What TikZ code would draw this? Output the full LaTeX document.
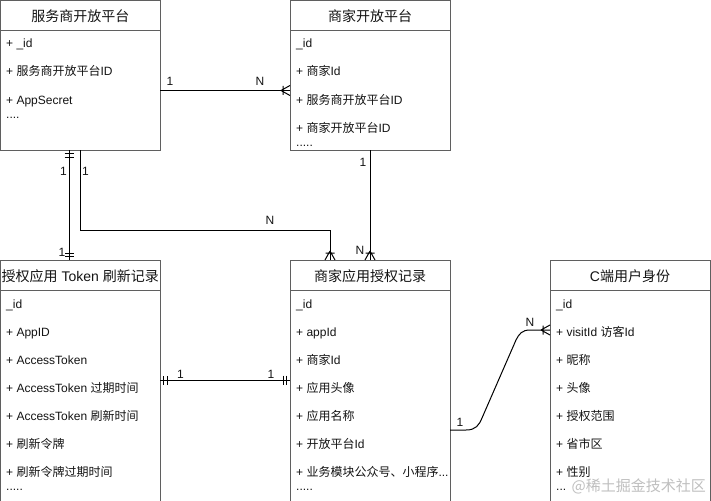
\documentclass[tikz,border=0pt]{standalone}
\usepackage{fontspec}
\setmainfont{Liberation Sans}
\newfontfamily\cjk{Noto Sans CJK SC}
\usetikzlibrary{calc}
\newcommand\zh[1]{{\cjk #1}}
\definecolor{boxgray}{RGB}{95,95,95}
\definecolor{txt}{RGB}{20,20,20}
\tikzset{
  box/.style={draw=boxgray, line width=1pt, inner sep=0pt, outer sep=0pt, anchor=north west},
  hdrline/.style={draw=boxgray, line width=1pt},
  ttl/.style={font=\fontsize{14}{16}\selectfont, inner sep=0pt, text=txt},
  row/.style={font=\fontsize{12}{14}\selectfont, anchor=base west, inner sep=0pt, text=txt},
  lbl/.style={font=\fontsize{12}{14}\selectfont, inner sep=0pt, text=txt},
  conn/.style={draw=black, line width=1pt},
  crow/.pic={\draw[conn] (-9,0) -- (0,-5) (-9,0) -- (0,5) (-7,-4.5) -- (-7,4.5);},
  mand/.pic={\draw[conn] (-3.5,-4.5) -- (-3.5,4.5) (-7,-4.5) -- (-7,4.5);},
}
\begin{document}
\begin{tikzpicture}[x=1pt,y=-1pt]
\useasboundingbox (0,0) rectangle (711,500);
\clip (0,0) rectangle (711,500);
\fill[white] (0,0) rectangle (711,500);

% boxes
\node[box, minimum width=159.5pt, minimum height=149.5pt] (b1) at (0.5,0.5) {};
\node[box, minimum width=160pt, minimum height=149.5pt] (b2) at (290,0.5) {};
\node[box, minimum width=159.5pt, minimum height=250pt] (b3) at (0.5,260) {};
\node[box, minimum width=160pt, minimum height=250pt] (b4) at (290,260) {};
\node[box, minimum width=160pt, minimum height=250pt] (b5) at (550,260) {};

\foreach \b in {b1,b2,b3,b4,b5}{
  \draw[hdrline] ($(\b.north west)+(0,30)$) -- ($(\b.north east)+(0,30)$);
}

% titles
\node[ttl] (t1) at ($(b1.north)+(0,16)$) {\zh{服务商开放平台}};
\node[ttl] (t2) at ($(b2.north)+(0,16)$) {\zh{商家开放平台}};
\node[ttl] (t3) at ($(b3.north)+(0,16.5)$) {\zh{授权应用} Token \zh{刷新记录}};
\node[ttl] (t4) at ($(b4.north)+(0,16.5)$) {\zh{商家应用授权记录}};
\node[ttl] (t5) at ($(b5.north)+(0,16.5)$) {C\zh{端用户身份}};

% box 1 rows
\node[row] (r1a) at (6,48) {+ \_id};
\node[row] (r1b) at (6,76) {+ \zh{服务商开放平台}ID};
\node[row] (r1c) at (6,104) {+ AppSecret};
\node[row] (r1d) at (6,118) {....};

% box 2 rows
\node[row] (r2a) at (296,48) {\_id};
\node[row] (r2b) at (296,76) {+ \zh{商家}Id};
\node[row] (r2c) at (296,104) {+ \zh{服务商开放平台}ID};
\node[row] (r2d) at (296,132) {+ \zh{商家开放平台}ID};
\node[row] (r2e) at (296,146) {.....};

% box 3 rows
\node[row] (r3a) at (6,308.5) {\_id};
\node[row] (r3b) at (6,336.5) {+ AppID};
\node[row] (r3c) at (6,364.5) {+ AccessToken};
\node[row] (r3d) at (6,392.5) {+ AccessToken \zh{过期时间}};
\node[row] (r3e) at (6,420.5) {+ AccessToken \zh{刷新时间}};
\node[row] (r3f) at (6,448.5) {+ \zh{刷新令牌}};
\node[row] (r3g) at (6,476) {+ \zh{刷新令牌过期时间}};
\node[row] (r3h) at (6,490) {.....};

% box 4 rows
\node[row] (r4a) at (296,308.5) {\_id};
\node[row] (r4b) at (296,336.5) {+ appId};
\node[row] (r4c) at (296,364.5) {+ \zh{商家}Id};
\node[row] (r4d) at (296,392.5) {+ \zh{应用头像}};
\node[row] (r4e) at (296,420.5) {+ \zh{应用名称}};
\node[row] (r4f) at (296,448.5) {+ \zh{开放平台}Id};
\node[row] (r4g) at (296,476) {+ \zh{业务模块公众号、小程序}...};
\node[row] (r4h) at (296,490) {.....};

% box 5 rows
\node[row] (r5a) at (556,308.5) {\_id};
\node[row] (r5b) at (556,336.5) {+ visitId \zh{访客}Id};
\node[row] (r5c) at (556,364.5) {+ \zh{昵称}};
\node[row] (r5d) at (556,392.5) {+ \zh{头像}};
\node[row] (r5e) at (556,420.5) {+ \zh{授权范围}};
\node[row] (r5f) at (556,448.5) {+ \zh{省市区}};
\node[row] (r5g) at (556,476) {+ \zh{性别}};
\node[row] (r5h) at (556,490) {...};

% C1: b1 -> b2
\draw[conn] ($(b1.north east)+(0,90)$) coordinate (c1s) -- ($(b2.north west)+(0,90)$) coordinate (c1e);
\pic at (c1e) {crow};
\node[lbl] (l1a) at (170,81) {1};
\node[lbl] (l1b) at (260,81) {N};

% C2: b1 -> b3 (one-to-one)
\draw[conn] ($(b1.south west)+(68.5,0)$) coordinate (c2s) -- (c2s |- b3.north) coordinate (c2e);
\pic[rotate=90] at (c2s) {mand};
\pic[rotate=-90] at (c2e) {mand};
\node[lbl] (l2a) at (63.5,171.5) {1};
\node[lbl] (l2b) at (62,252.5) {1};

% C3: b1 -> b4
\draw[conn] ($(b1.south west)+(79.5,0)$) coordinate (c3s) -- ++(0,80) -| ($(b4.north west)+(40,0)$) coordinate (c3e);
\pic[rotate=-90] at (c3e) {crow};
\node[lbl] (l3a) at (85.5,171.5) {1};
\node[lbl] (l3b) at (270,220) {N};

% C4: b2 -> b4
\draw[conn] ($(b2.south west)+(80,0)$) coordinate (c4s) -- (c4s |- b4.north) coordinate (c4e);
\pic[rotate=-90] at (c4e) {crow};
\node[lbl] (l4a) at (363,162) {1};
\node[lbl] (l4b) at (360,250) {N};

% C5: b3 -> b4
\draw[conn] ($(b3.north east)+(0,120)$) coordinate (c5s) -- ($(b4.north west)+(0,120)$) coordinate (c5e);
\pic[rotate=180] at (c5s) {mand};
\pic at (c5e) {mand};
\node[lbl] (l5a) at (180.5,374) {1};
\node[lbl] (l5b) at (271,374) {1};

% C6: b4 -> b5
\coordinate (c6s) at ($(b4.north east)+(0,170)$);
\coordinate (c6e) at ($(b5.north west)+(0,70)$);
\draw[conn] (c6s) -- ($(c6s)+(16,0)$)
  .. controls ($(c6s)+(26,0)$) and ($(c6s)+(29,-5)$) .. ($(c6s)+(32,-12)$)
  -- ($(c6e)+(-34,10)$)
  .. controls ($(c6e)+(-31,4)$) and ($(c6e)+(-28,0)$) .. ($(c6e)+(-20,0)$)
  -- (c6e);
\pic at (c6e) {crow};
\node[lbl] (l6a) at (460,422) {1};
\node[lbl] (l6b) at (530,322) {N};

% watermark
\node[anchor=base east, inner sep=0pt, text=gray!50, font=\cjk\fontsize{15}{17}\selectfont] (wm) at (706,491) {@稀土掘金技术社区};
\end{tikzpicture}
\end{document}
